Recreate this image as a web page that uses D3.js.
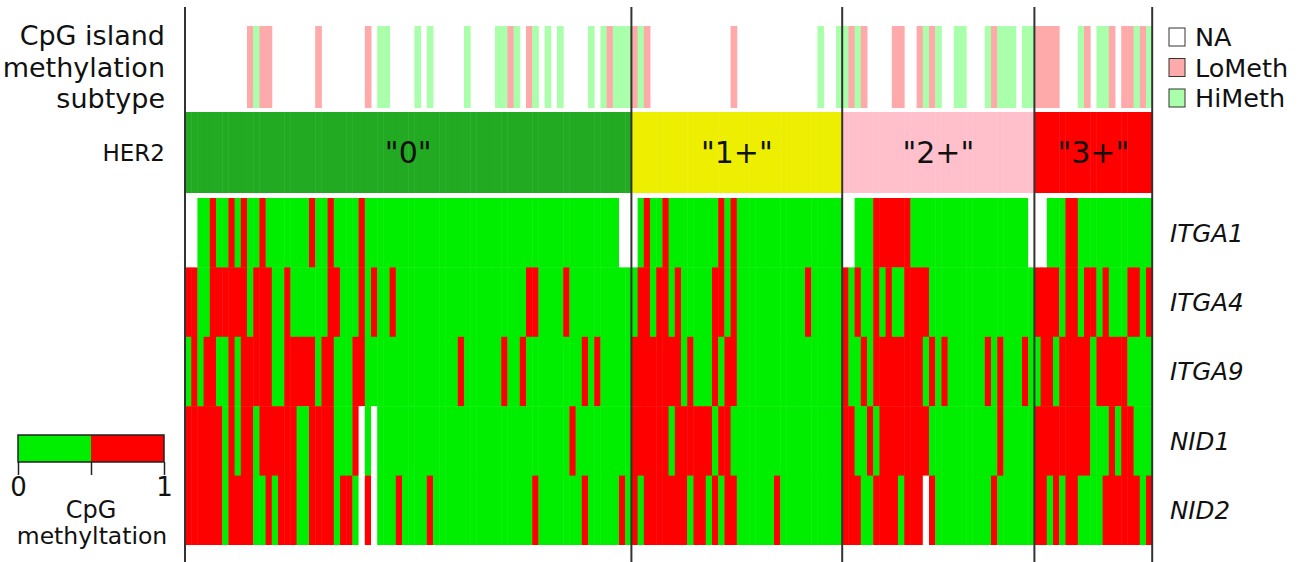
<!DOCTYPE html>
<html><head><meta charset="utf-8">
<script src="https://cdn.jsdelivr.net/npm/d3@7/dist/d3.min.js"></script>
<style>
body{margin:0;background:#fff;}
svg text{font-family:"DejaVu Sans",Verdana,sans-serif;fill:#111;}
</style>
</head><body>
<svg id="chart" width="1306" height="562"></svg>
<script>
// ---------------- data ----------------
const genes = ["ITGA1", "ITGA4", "ITGA9", "NID1", "NID2"];
// per-sample CpG methylation (1 = methylated, 0 = unmethylated, n = NA), 156 samples
const methITGA1 = "nn00100101" + "0010000000" + "1001000010" + "0000000000" + "0000000000" + "0000000000" + "0000000000" + "nnn0100100" + "0000001010" + "0000000000" + "000000nn00" + "0111111000" + "0000000000" + "000000nnn0" + "0011000000" + "000000";
const methITGA4 = "1100111111" + "0111001000" + "0001100010" + "1001000000" + "0000000000" + "0000011000" + "0100000000" + "0001101101" + "0000011010" + "0000000000" + "1000001010" + "0101001111" + "0000000000" + "0000000111" + "1011011010" + "001101";
const methITGA9 = "0101100101" + "1111001111" + "1011000110" + "0000000000" + "0000100000" + "0100100000" + "0000101000" + "0011111111" + "0100010110" + "0000000000" + "0000001001" + "0111111110" + "1010000001" + "0100010011" + "0111110111" + "110000";
const methNID1  = "1111110101" + "1011111100" + "11110001n0" + "n000000000" + "0000000000" + "0000000000" + "0010000000" + "0011111101" + "1111101100" + "0000000000" + "0000001100" + "1011111111" + "0000000000" + "0100000111" + "1111110001" + "011000";
const methNID2  = "1111110111" + "1001011100" + "11110110n1" + "n000100001" + "0000000000" + "0000001000" + "0000100000" + "1010111111" + "1011010110" + "0000010000" + "0000001110" + "011110111n" + "1000000000" + "1000000110" + "1011000011" + "111101";
// CpG island methylation subtype per sample: n = NA, L = LoMeth, H = HiMeth
const cpgSubtype = "nnnnnnnnnn" + "LHLLnnnnnn" + "nLnnnnnnnL" + "nHHnnnnHnH" + "nnnnnHnnnn" + "HHLHnLHnHn" + "HnnnnHnHLH" + "HHLHLnnnnn" + "nnnnnnnnLn" + "nnnnnnnnnn" + "nnHnnHHLHL" + "nnnnLLnnLH" + "LHnnHHnnnH" + "LHHHnHHLLL" + "LnnnHLnHHL" + "nLLHLH";
// HER2 groups and number of samples in each
const her2Groups = ['"0"', '"1+"', '"2+"', '"3+"'];
const her2Counts = [72, 34, 31, 19];
// legends
const subtypeKeys = ["NA", "LoMeth", "HiMeth"];
const subtypeCodes = ["n", "L", "H"];
const scaleTicks = [0, 0.5, 1];
const scaleTickLabels = ["0", "", "1"];

// ---------------- drawing ----------------
const meth = { ITGA1: methITGA1, ITGA4: methITGA4, ITGA9: methITGA9, NID1: methNID1, NID2: methNID2 };
const nSamples = d3.sum(her2Counts);
const her2PerSample = her2Groups.flatMap((g, i) => d3.range(her2Counts[i]).map(() => g));
const groupStarts = d3.cumsum([0, ...her2Counts]);

const svg = d3.select("#chart");
const x = d3.scaleBand().domain(d3.range(nSamples)).range([185, 1152.2]).padding(0);
const cellW = i => (i === nSamples - 1 ? x.bandwidth() : x.bandwidth() + 0.45);
const yHeat = d3.scaleBand().domain(genes).range([198, 545]).padding(0);
const methColor = d3.scaleOrdinal().domain(["0", "1", "n"]).range(["#00ee00", "#ff0000", "#ffffff"]);
const subColor = d3.scaleOrdinal().domain(subtypeCodes).range(["#ffffff", "#ffaaaa", "#aaffaa"]);
const her2Color = d3.scaleOrdinal().domain(her2Groups).range(["#22aa22", "#eeee00", "#ffc0cb", "#ff0000"]);

// CpG subtype row
const cpgY0 = 26, cpgY1 = 108;
svg.append("g").selectAll("rect")
  .data(cpgSubtype.split("").map((c, i) => ({ c, i })).filter(d => d.c !== "n"))
  .join("rect")
  .attr("x", d => x(d.i)).attr("width", d => cellW(d.i))
  .attr("y", cpgY0).attr("height", cpgY1 - cpgY0)
  .attr("fill", d => subColor(d.c));

// HER2 row
const herY0 = 112, herY1 = 193;
svg.append("g").selectAll("rect")
  .data(her2PerSample.map((g, i) => ({ g, i })))
  .join("rect")
  .attr("x", d => x(d.i)).attr("width", d => cellW(d.i))
  .attr("y", herY0).attr("height", herY1 - herY0)
  .attr("fill", d => her2Color(d.g));

svg.append("g").selectAll("text")
  .data(her2Groups)
  .join("text")
  .attr("x", (g, i) => (x(groupStarts[i]) + x(groupStarts[i + 1] - 1) + x.bandwidth()) / 2)
  .attr("y", (herY0 + herY1) / 2)
  .attr("dy", "0.36em")
  .attr("text-anchor", "middle")
  .style("font-size", "30px")
  .text(g => g);

// heatmap
const cells = genes.flatMap(g => meth[g].split("").map((v, i) => ({ g, v, i })));
svg.append("g").selectAll("rect")
  .data(cells)
  .join("rect")
  .attr("x", d => x(d.i)).attr("width", d => cellW(d.i))
  .attr("y", d => yHeat(d.g)).attr("height", d => yHeat.bandwidth() + (d.g === genes[genes.length - 1] ? 0 : 0.4))
  .attr("fill", d => methColor(d.v));

// gene labels
svg.append("g").selectAll("text")
  .data(genes)
  .join("text")
  .attr("x", 1170)
  .attr("y", g => yHeat(g) + yHeat.bandwidth() / 2)
  .attr("dy", "0.36em")
  .style("font-size", "24.5px")
  .style("font-style", "italic")
  .text(g => g);

// group divider lines
const dividers = [0, ...groupStarts.slice(1, -1), nSamples];
svg.append("g").selectAll("line")
  .data(dividers)
  .join("line")
  .attr("x1", i => i < nSamples ? x(i) : x(nSamples - 1) + x.bandwidth())
  .attr("x2", i => i < nSamples ? x(i) : x(nSamples - 1) + x.bandwidth())
  .attr("y1", 7).attr("y2", 562)
  .attr("stroke", "#333").attr("stroke-width", 2);

// left row labels
const leftLabels = svg.append("g").attr("text-anchor", "end");
[["CpG island", 35, 27], ["methylation", 67, 27], ["subtype", 98, 27], ["HER2", 153, 23]].forEach(([t, yy, fs]) => {
  leftLabels.append("text").attr("x", 165).attr("y", yy).attr("dy", "0.36em").style("font-size", fs + "px").text(t);
});

// subtype legend (right)
const leg = svg.append("g");
subtypeKeys.forEach((k, i) => {
  const cy = 37 + i * 30.5;
  leg.append("rect").attr("x", 1169).attr("y", cy - 9).attr("width", 16).attr("height", 18)
    .attr("fill", subColor(subtypeCodes[i])).attr("stroke", "#333").attr("stroke-width", 1);
  leg.append("text").attr("x", 1195).attr("y", cy).attr("dy", "0.36em").style("font-size", "25.5px").text(k);
});

// methylation colour-scale legend (bottom left)
const lx = d3.scaleLinear().domain([0, 1]).range([18, 164]);
const lg = svg.append("g");
lg.append("rect").attr("x", lx(0)).attr("y", 435).attr("width", lx(0.5) - lx(0)).attr("height", 27).attr("fill", methColor("0"));
lg.append("rect").attr("x", lx(0.5)).attr("y", 435).attr("width", lx(1) - lx(0.5)).attr("height", 27).attr("fill", methColor("1"));
lg.append("rect").attr("x", lx(0)).attr("y", 435).attr("width", lx(1) - lx(0)).attr("height", 27)
  .attr("fill", "none").attr("stroke", "#222").attr("stroke-width", 1.5);
const axis = d3.axisBottom(lx).tickValues(scaleTicks).tickFormat((d, i) => scaleTickLabels[i]).tickSize(13).tickPadding(3);
const ag = lg.append("g").attr("transform", "translate(0,462)").call(axis);
ag.select(".domain").remove();
ag.selectAll("line").attr("stroke", "#222").attr("stroke-width", 1.5);
ag.selectAll("text").style("font-size", "26px").attr("fill", "#111");
lg.append("text").attr("x", lx(0.5)).attr("y", 509).attr("dy", "0.36em").attr("text-anchor", "middle").style("font-size", "24px").text("CpG");
lg.append("text").attr("x", lx(0.5) + 1).attr("y", 536).attr("dy", "0.36em").attr("text-anchor", "middle").style("font-size", "23.5px").text("methyltation");
</script>
</body></html>
